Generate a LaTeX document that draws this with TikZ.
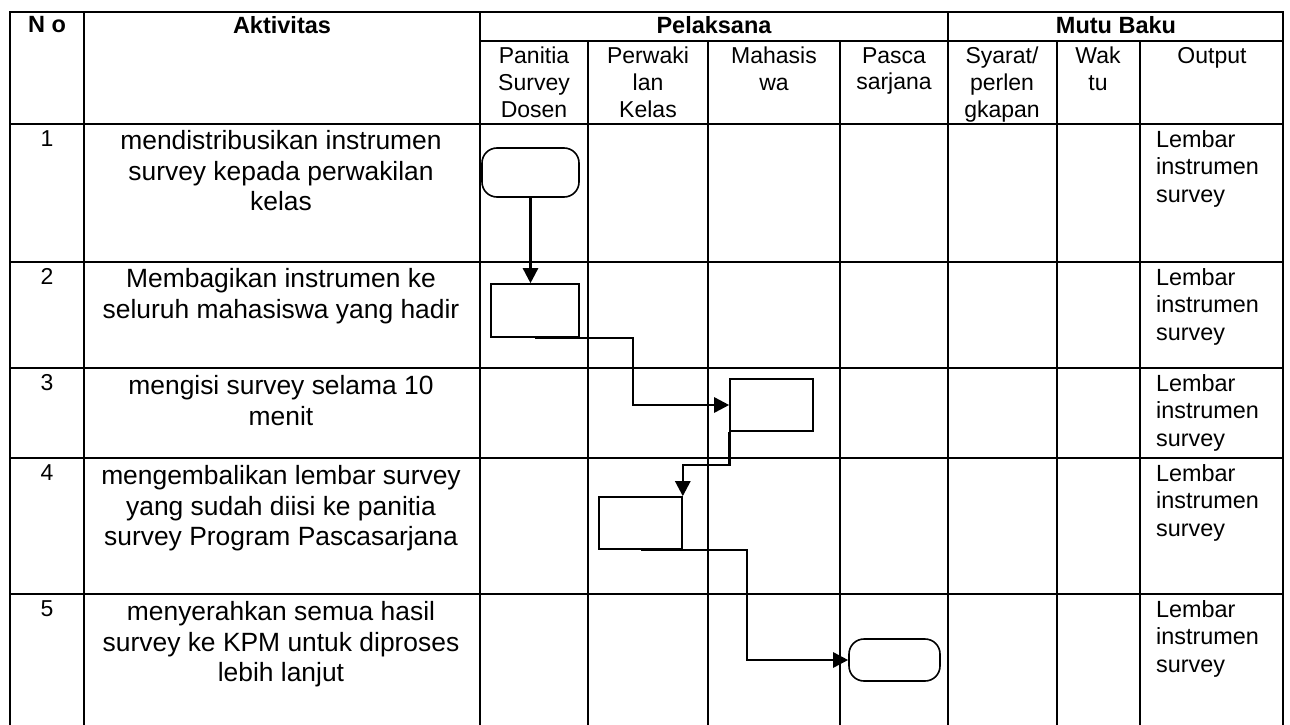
\documentclass[tikz,border=0pt]{standalone}
\usepackage{fontspec}
\setmainfont{Liberation Sans}
\usetikzlibrary{arrows.meta, positioning, calc}

\begin{document}
\begin{tikzpicture}[
  x=1pt, y=-1pt,
  grid/.style={line width=1.6pt, line cap=rect},
  hdr/.style={anchor=north, inner sep=0pt, font=\bfseries\fontsize{23.5}{27}\selectfont},
  sub/.style={anchor=north, inner sep=0pt, align=center, font=\fontsize{23}{26.7}\selectfont},
  num/.style={anchor=north, inner sep=0pt, font=\fontsize{23}{26}\selectfont},
  act/.style={anchor=north, inner sep=0pt, align=center, font=\fontsize{26.4}{30.8}\selectfont},
  outp/.style={anchor=north west, inner sep=0pt, align=left, font=\fontsize{23.4}{27.5}\selectfont},
  term/.style={draw, line width=1.6pt, rounded corners=15pt, inner sep=0pt},
  proc/.style={draw, line width=1.6pt, inner sep=0pt},
  flow/.style={-{Triangle[length=15pt,width=15pt]}, line width=2.6pt}
]
\useasboundingbox (0,0) rectangle (1290,725);

% table lines
\draw[grid] (10,12) -- (1283,12);
\draw[grid] (480,41) -- (1283,41);
\foreach \y in {124,262,368,458,594}
  \draw[grid] (10,\y) -- (1283,\y);
\foreach \x in {10,84,480,948,1283}
  \draw[grid] (\x,12) -- (\x,725);
\foreach \x in {588,708,840,1057,1140}
  \draw[grid] (\x,41) -- (\x,725);

% header
\node[hdr] (hno)   at (47,16)   {N o};
\node[hdr] (hakt)  at (282,16)  {Aktivitas};
\node[hdr] (hpel)  at (714,16)  {Pelaksana};
\node[hdr] (hmutu) at (1116,16) {Mutu Baku};

\node[sub] (panitia) at (534,47)  {Panitia\\Survey\\Dosen};
\node[sub] (perwak)  at (648,47)  {Perwaki\\lan\\Kelas};
\node[sub] (mhs)     at (774,47)  {Mahasis\\wa};
\node[sub] (pasca)   at (894,47)  {Pasca\\sarjana};
\node[sub] (syarat)  at (1002,47) {Syarat/\\perlen\\gkapan};
\node[sub] (waktu)   at (1098,47) {Wak\\tu};
\node[sub] (output)  at (1212,47) {Output};

% rows
\foreach \n/\y in {1/124,2/262,3/368,4/458,5/594} {
  \node[num]  (no\n)  at (47,\y+6)   {\n};
  \node[outp] (out\n) at (1156,\y+6) {Lembar\\instrumen\\survey};
}

\node[act] (act1) at (281,130) {mendistribusikan instrumen\\survey kepada perwakilan\\kelas};
\node[act] (act2) at (281,268) {Membagikan instrumen ke\\seluruh mahasiswa yang hadir};
\node[act] (act3) at (281,375) {mengisi survey selama 10\\menit};
\node[act] (act4) at (281,465) {mengembalikan lembar survey\\yang sudah diisi ke panitia\\survey Program Pascasarjana};
\node[act] (act5) at (281,601) {menyerahkan semua hasil\\survey ke KPM untuk diproses\\lebih lanjut};

% flow shapes
\node[term, minimum width=97pt, minimum height=49pt] (t1) at (530.5,172.5) {};
\node[proc, minimum width=88pt, minimum height=53pt] (b2) at (535,310.5) {};
\node[proc, minimum width=83pt, minimum height=52pt] (b3) at (771.5,405) {};
\node[proc, minimum width=83pt, minimum height=52pt] (b4) at (640.5,523) {};
\node[term, minimum width=91pt, minimum height=42pt] (t5) at (894.5,660) {};

\coordinate (k23) at (633,0);
\coordinate (k45) at (747,0);

\draw[flow] (t1.south) -- (t1.south |- b2.north);
\draw[flow] (b2.south) -- (b2.south -| k23) |- (b3.west);
\draw[flow] (b3.south west) -- ++(0,33) -| (b4.north east);
\draw[flow] (b4.south) -- (b4.south -| k45) |- (t5.west);
\end{tikzpicture}
\end{document}
